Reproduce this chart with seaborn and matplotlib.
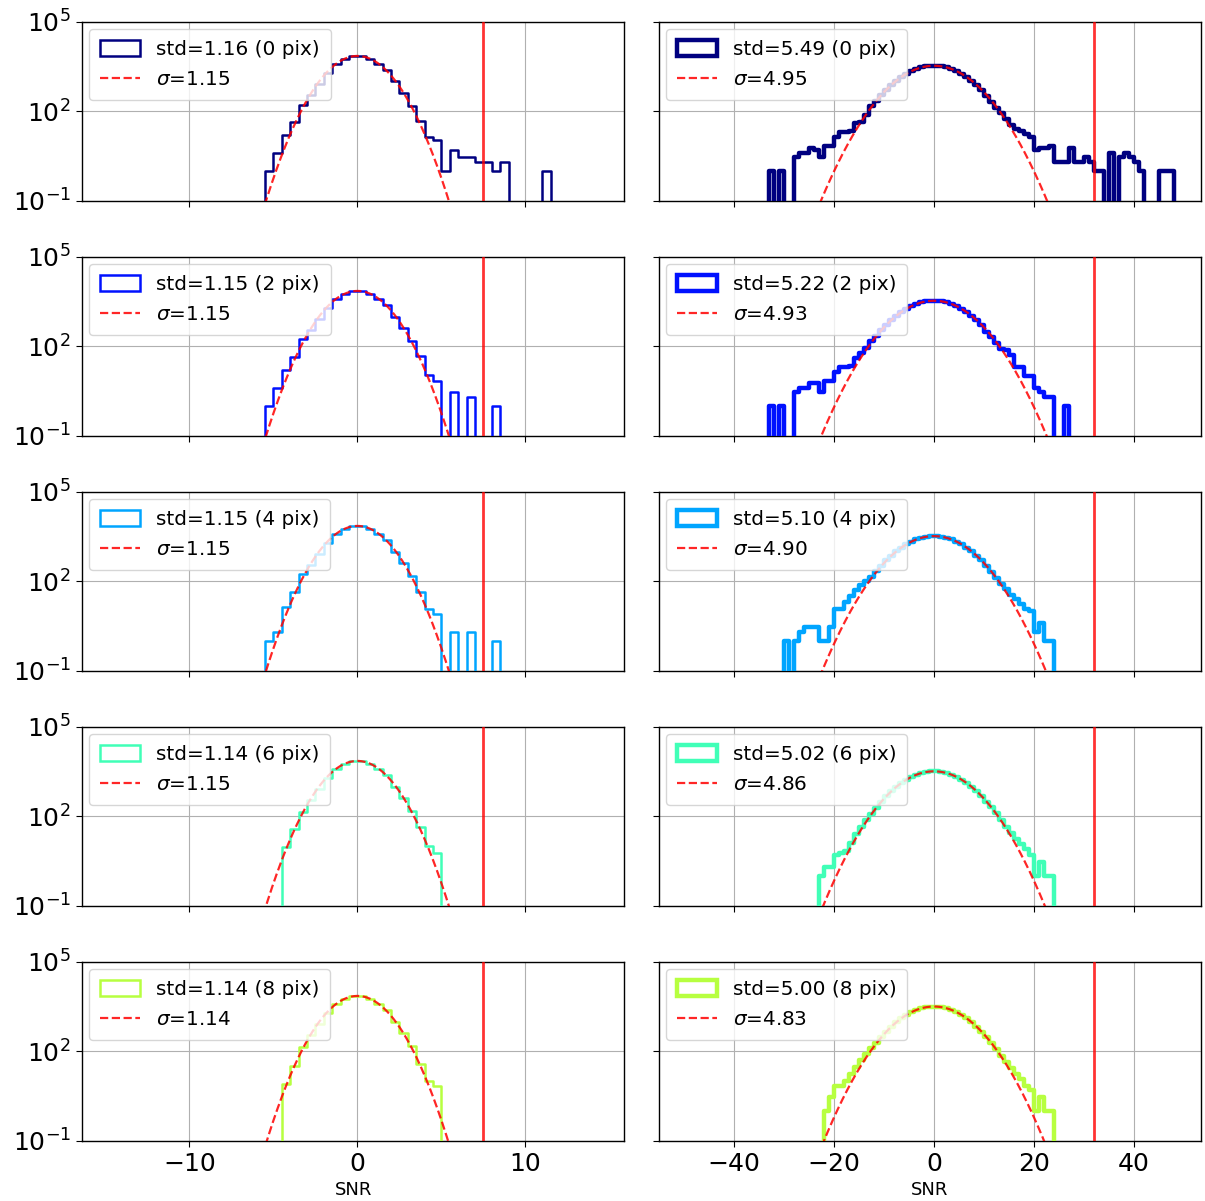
import numpy as np
import pandas as pd
import matplotlib
matplotlib.use("Agg")
import matplotlib.pyplot as plt
import seaborn as sns
from matplotlib.patches import Patch
from matplotlib.lines import Line2D

sns.set_style("ticks")
plt.rcParams['font.family'] = ['DejaVu Sans']
plt.rcParams.update({
    "axes.edgecolor": "black", "axes.linewidth": 1.0,
    "xtick.color": "black", "ytick.color": "black",
    "text.color": "black", "axes.labelcolor": "black",
    "xtick.major.size": 4.5, "ytick.major.size": 4.5,
})

# ---------------- data ----------------
pix = [0, 2, 4, 6, 8]
std_left = [1.16, 1.15, 1.15, 1.14, 1.14]
sigma_left = [1.15, 1.15, 1.15, 1.15, 1.14]
peak_left = [7250, 7250, 7250, 7250, 7250]
std_right = [5.49, 5.22, 5.10, 5.02, 5.00]
sigma_right = [4.95, 4.93, 4.90, 4.86, 4.83]
peak_right = [3400, 3400, 3300, 3250, 3200]
threshold_left = 7.5
threshold_right = 32.0

# left column: bins of width 0.5, first bin edge given per panel
left_width = 0.5
left_lo = [-5.5, -5.5, -5.5, -4.5, -4.5]
counts_left = [
    [1, 4, 16, 45, 164, 360, 800, 2000, 4000, 5600, 7300, 7300, 5900, 4000, 2370, 1020,
     410, 155, 47, 14, 11, 1, 5, 3, 3, 2, 2, 1, 2, 0, 0, 0, 0, 1],
    [1, 4, 16, 45, 170, 360, 800, 2000, 4000, 5600, 7300, 7300, 5900, 4000, 2400, 1000,
     410, 155, 47, 11, 7, 0, 3, 0, 2, 0, 0, 1],
    [1, 2, 14, 45, 170, 360, 800, 2000, 4000, 5600, 7300, 7300, 5900, 4000, 2400, 1000,
     410, 155, 45, 12, 8, 0, 2, 0, 2, 0, 0, 1],
    [9, 39, 145, 360, 800, 2000, 4000, 5600, 7300, 7300, 5900, 4000, 2400, 1000,
     410, 155, 43, 10, 6],
    [8, 32, 138, 360, 800, 2000, 4000, 5600, 7300, 7300, 5900, 4000, 2400, 1000,
     410, 155, 39, 10, 7],
]

# right column: bins of width 1, first bin edge given per panel
right_width = 1.0
right_lo = [-33, -33, -30, -23, -22]
counts_right = [
    # -33 .. 47
    [1, 0, 1, 0, 0, 3, 4, 4, 6, 5, 3, 7, 7, 14, 20, 20, 22, 40, 45, 75,
     150, 229, 357, 539, 779, 1079, 1435, 1834, 2249, 2648, 2993, 3247, 3383,
     3383, 3247, 2993, 2648, 2249, 1834, 1435, 1079, 779, 539, 330, 210, 130, 85,
     55, 35, 25, 22, 18, 14, 5, 6, 6, 7, 2, 2, 2, 6, 2, 2, 3, 2, 1, 1, 0, 4, 0,
     3, 4, 3, 2, 1, 0, 0, 0, 1, 1, 1],
    # -33 .. 26
    [1, 0, 1, 0, 0, 3, 4, 4, 6, 6, 3, 7, 7, 14, 20, 20, 22, 40, 60, 90,
     150, 229, 357, 529, 767, 1066, 1421, 1821, 2238, 2640, 2988, 3245, 3383,
     3383, 3245, 2988, 2640, 2238, 1821, 1421, 1066, 767, 529, 310, 200, 125, 80,
     75, 50, 20, 20, 10, 10, 4, 3, 2, 2, 0, 0, 1],
    # -30 .. 23
    [1, 0, 1, 2, 3, 3, 3, 1, 1, 3, 12, 12, 20, 32, 50, 75, 100, 140, 220, 340,
     504, 733, 1023, 1369, 1758, 2165, 2557, 2897, 3149, 3283,
     3283, 3149, 2897, 2557, 2165, 1758, 1369, 1023, 733, 504, 330, 210, 130, 80,
     55, 35, 25, 18, 12, 10, 2, 4, 1, 1],
    # -23 .. 23
    [1, 2, 2, 5, 6, 7, 13, 25, 45, 75, 120, 190, 300,
     481, 704, 988, 1329, 1713, 2118, 2507, 2848, 3099, 3233,
     3233, 3099, 2848, 2507, 2118, 1713, 1329, 988, 704, 481, 310, 200, 125, 75,
     45, 28, 18, 12, 8, 5, 1, 3, 1, 1],
    # -22 .. 23
    [1, 3, 7, 7, 10, 18, 30, 50, 80, 125, 195, 300,
     462, 680, 958, 1294, 1674, 2073, 2461, 2799, 3049, 3183,
     3183, 3049, 2799, 2461, 2073, 1674, 1294, 958, 680, 462, 300, 195, 120, 72,
     44, 28, 18, 12, 7, 5, 1, 3, 1, 1],
]

xlim_left = (-16.4, 15.9)
xlim_right = (-55.1, 53.4)
colors = [plt.cm.jet(i / 7) for i in range(5)]

# ---------------- figure ----------------
fig, axes = plt.subplots(5, 2, figsize=(12.05, 12.01), dpi=100)
fig.subplots_adjust(left=82 / 1205, right=1201 / 1205, top=1 - 22 / 1201,
                    bottom=1 - 1140.7 / 1201, wspace=0.0627, hspace=0.315)


def draw_panel(ax, lo, width, counts, color, lw, sigma, peak, std, p, thr, xlim):
    counts = np.asarray(counts, float)
    n = len(counts)
    edges = lo + width * np.arange(-1, n + 2)
    padded = np.concatenate([[0.0], counts, [0.0]])
    centers = (edges[:-1] + edges[1:]) / 2
    df = pd.DataFrame({"snr": centers, "count": padded})
    ax.set_yscale("log")
    sns.histplot(data=df, x="snr", weights="count", bins=edges.tolist(), element="step",
                 fill=False, color=color, lw=lw, ax=ax, zorder=3)
    xs = np.linspace(xlim[0], xlim[1], 1200)
    ys = peak * np.exp(-xs ** 2 / (2 * sigma ** 2))
    ys = np.maximum(ys, 1e-30)
    sns.lineplot(x=xs, y=ys, ax=ax, color="red", ls="--", lw=1.6, alpha=0.85, zorder=4)
    ax.axvline(thr, color="red", lw=2.0, alpha=0.8, zorder=4)
    ax.set_xlim(*xlim)
    ax.set_ylim(1e-1, 1e5)
    ax.set_yticks([1e-1, 1e2, 1e5])
    ax.yaxis.set_minor_locator(matplotlib.ticker.NullLocator())
    ax.grid(True, color="#b0b0b0", lw=0.8, zorder=0)
    ax.set_axisbelow(True)
    ax.set_ylabel("")
    handles = [Patch(facecolor="none", edgecolor=color, lw=lw),
               Line2D([0], [0], color="red", ls="--", lw=1.6, alpha=0.85)]
    labels = [f"std={std:.2f} ({p} pix)", f"$\\sigma$={sigma:.2f}"]
    ax.legend(handles, labels, loc="upper left", fontsize=14.4, framealpha=0.8,
              borderaxespad=0.35, borderpad=0.55, handleheight=0.85, labelspacing=0.55)


for i in range(5):
    axl, axr = axes[i]
    draw_panel(axl, left_lo[i], left_width, counts_left[i], colors[i], 1.8,
               sigma_left[i], peak_left[i], std_left[i], pix[i], threshold_left, xlim_left)
    draw_panel(axr, right_lo[i], right_width, counts_right[i], colors[i], 3.2,
               sigma_right[i], peak_right[i], std_right[i], pix[i], threshold_right, xlim_right)
    axl.set_xticks([-10, 0, 10])
    axr.set_xticks([-40, -20, 0, 20, 40])
    axl.tick_params(labelsize=18)
    axr.tick_params(labelsize=18)
    axr.tick_params(labelleft=False)
    if i < 4:
        axl.tick_params(labelbottom=False)
        axr.tick_params(labelbottom=False)
        axl.set_xlabel("")
        axr.set_xlabel("")
    else:
        axl.set_xlabel("SNR", fontsize=13)
        axr.set_xlabel("SNR", fontsize=13)

fig.savefig("out.png", dpi=100)
